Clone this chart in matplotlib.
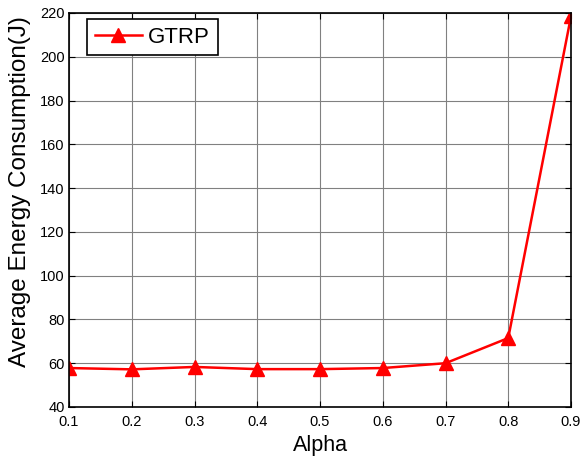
import matplotlib
matplotlib.use("Agg")
import matplotlib.pyplot as plt

alpha = [0.1, 0.2, 0.3, 0.4, 0.5, 0.6, 0.7, 0.8, 0.9]
energy = [57.8, 57.2, 58.3, 57.3, 57.3, 57.8, 60.0, 71.5, 218.5]
x_ticks = [0.1, 0.2, 0.3, 0.4, 0.5, 0.6, 0.7, 0.8, 0.9]
y_ticks = [40, 60, 80, 100, 120, 140, 160, 180, 200, 220]

plt.rcParams['font.family'] = ['Liberation Sans', 'DejaVu Sans']

fig = plt.figure(figsize=(5.87, 4.58), dpi=100)
ax = fig.add_axes([69/587, 1 - 407/458, (571-69)/587, (407-13)/458])

ax.plot(alpha, energy, color='red', linewidth=1.8, marker='^', markersize=10,
        markerfacecolor='red', markeredgecolor='red', label='GTRP')

ax.set_xlim(0.1, 0.9)
ax.set_ylim(40, 220)
ax.set_xticks(x_ticks)
ax.set_xticklabels([f"{v:.1f}" for v in x_ticks])
ax.set_yticks(y_ticks)
ax.grid(True, color='#808080', linewidth=0.8, linestyle='-')
ax.tick_params(direction='in', length=4, labelsize=10.5, top=True, right=True)
ax.tick_params(axis='x', pad=6)
ax.tick_params(axis='y', pad=3)
for s in ax.spines.values():
    s.set_linewidth(1.2)
    s.set_color('black')

ax.set_xlabel('Alpha', fontsize=15.5, labelpad=4)
ax.set_ylabel('Average Energy Consumption(J)', fontsize=17.5, va='center')
ax.yaxis.set_label_coords(-0.097, 0.548)

leg = ax.legend(loc='upper left', fontsize=16, fancybox=False, framealpha=1,
                edgecolor='black', handlelength=2.1, handletextpad=0.3,
                borderpad=0.35, borderaxespad=0,
                bbox_to_anchor=(0.036, 0.985))
leg.get_frame().set_linewidth(1.2)

fig.savefig('out.png', dpi=100)
